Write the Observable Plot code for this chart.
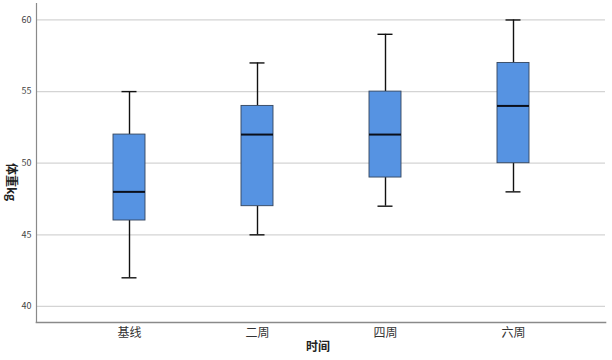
<!DOCTYPE html>
<html>
<head>
<meta charset="utf-8">
<script src="https://cdn.jsdelivr.net/npm/d3@7"></script>
<script src="https://cdn.jsdelivr.net/npm/@observablehq/plot@0.6"></script>
<style>
html,body{margin:0;padding:0;background:#fff;}
</style>
</head>
<body>
<div id="chart"></div>
<script>
const categories = ["基线", "二周", "四周", "六周"];
const whiskerLow = [42, 45, 47, 48];
const q1 = [46, 47, 49, 50];
const median = [48, 52, 52, 54];
const q3 = [52, 54, 55, 57];
const whiskerHigh = [55, 57, 59, 60];
const yTicks = [40, 45, 50, 55, 60];
const xTitle = "时间";
const yTitle = "体重kg";

const data = categories.map((c, i) => ({
  cat: c, lo: whiskerLow[i], q1: q1[i], med: median[i], q3: q3[i], hi: whiskerHigh[i]
}));

const chart = Plot.plot({
  width: 612,
  height: 360,
  marginLeft: 36,
  marginRight: 7,
  marginTop: 3,
  marginBottom: 38,
  style: {fontFamily: "'Noto Sans CJK SC', 'Noto Sans', sans-serif", background: "#fff"},
  x: {type: "band", domain: categories, range: [65, 577], padding: 0, label: null},
  y: {domain: [38.88, 61.15], label: null},
  marks: [
    Plot.ruleY(yTicks, {stroke: "#d4d4d4", strokeWidth: 1.2}),
    Plot.ruleX(data, {x: "cat", y1: "lo", y2: "q1", stroke: "#111", strokeWidth: 1.4}),
    Plot.ruleX(data, {x: "cat", y1: "q3", y2: "hi", stroke: "#111", strokeWidth: 1.4}),
    Plot.tickY(data, {x: "cat", y: "lo", stroke: "#111", strokeWidth: 1.4, insetLeft: 56.5, insetRight: 56.5}),
    Plot.tickY(data, {x: "cat", y: "hi", stroke: "#111", strokeWidth: 1.4, insetLeft: 56.5, insetRight: 56.5}),
    Plot.barY(data, {x: "cat", y1: "q1", y2: "q3", fill: "#5693e2", stroke: "#34465e", strokeWidth: 0.9, insetLeft: 48, insetRight: 48}),
    Plot.tickY(data, {x: "cat", y: "med", stroke: "#0a0f1a", strokeWidth: 2, insetLeft: 48, insetRight: 48}),
    Plot.frame({anchor: "left", stroke: "#8a8a8a", strokeWidth: 1.2}),
    Plot.frame({anchor: "bottom", stroke: "#8a8a8a", strokeWidth: 1.6}),
    Plot.axisY(yTicks, {tickSize: 0, tickPadding: 5, fontSize: 9, fill: "#444", label: null}),
    Plot.axisX({tickSize: 0, tickPadding: 6, fontSize: 12, fill: "#333", label: null}),
    Plot.text([yTitle], {frameAnchor: "left", rotate: 90, dx: -26, fontSize: 12, fontWeight: "bold", fill: "#222"}),
    Plot.text([xTitle], {frameAnchor: "bottom", dy: 28, dx: -3, fontSize: 12, fontWeight: "bold", fill: "#222"})
  ]
});
document.getElementById("chart").appendChild(chart);
</script>
</body>
</html>
